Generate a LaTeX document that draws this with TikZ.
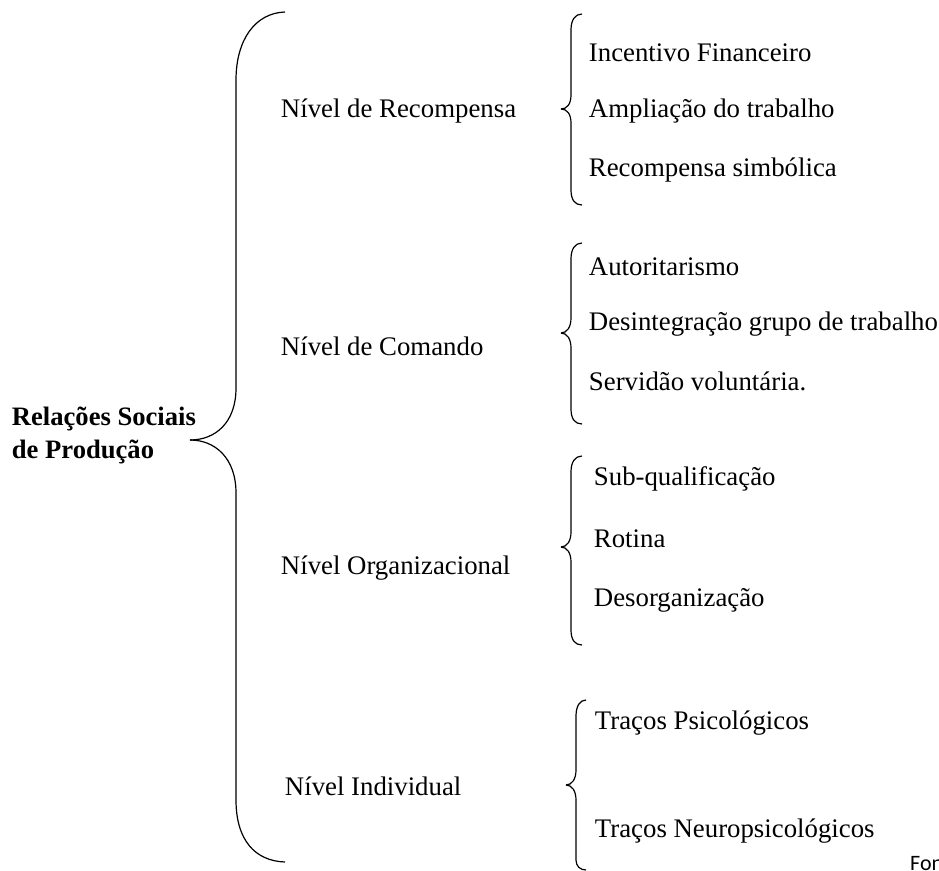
\documentclass[tikz,border=0pt]{standalone}
\usepackage{fontspec}
\setmainfont{Liberation Serif}
\newfontfamily\fontefont{Carlito}

\tikzset{
  txt/.style={anchor=west, inner sep=0.75pt, font=\fontsize{26.8}{32}\selectfont},
  brace/.style={line width=1.2pt}
}

\begin{document}
\begin{tikzpicture}[x=1pt,y=1pt,yscale=-1,xscale=1]
  \useasboundingbox (0,0) rectangle (939,870);

  %Curve Lines (big brace, upper half)
  \draw [brace] (285,12) .. controls (255,13) and (236,40) .. (236,80) -- (236,388) .. controls (236,423) and (215,440) .. (190,440) ;
  %Curve Lines (big brace, lower half)
  \draw [brace] (190,440) .. controls (215,440) and (236,458) .. (236,493) -- (236,800) .. controls (236,840) and (255,861) .. (285,862) ;

  %Curve Lines (brace of Recompensa)
  \draw [brace] (582,14) .. controls (575,14) and (571,20) .. (571,30) -- (571,95) .. controls (571,104) and (567,109) .. (561,109) ;
  \draw [brace] (561,109) .. controls (567,109) and (571,114) .. (571,123) -- (571,190) .. controls (571,200) and (575,205) .. (582,205) ;
  %Curve Lines (brace of Comando)
  \draw [brace] (582,243) .. controls (575,243) and (571,249) .. (571,259) -- (571,318) .. controls (571,327) and (567,333) .. (561,333) ;
  \draw [brace] (561,333) .. controls (567,333) and (571,339) .. (571,348) -- (571,409) .. controls (571,419) and (575,424) .. (582,424) ;
  %Curve Lines (brace of Organizacional)
  \draw [brace] (582,456) .. controls (575,456) and (571,462) .. (571,472) -- (571,532) .. controls (571,541) and (567,547) .. (561,547) ;
  \draw [brace] (561,547) .. controls (567,547) and (571,553) .. (571,562) -- (571,630) .. controls (571,640) and (575,645) .. (582,645) ;
  %Curve Lines (brace of Individual)
  \draw [brace] (586,700) .. controls (580,700) and (576,706) .. (576,716) -- (576,770) .. controls (576,779) and (572,785) .. (566,785) ;
  \draw [brace] (566,785) .. controls (572,785) and (576,791) .. (576,800) -- (576,860) .. controls (576,866) and (580,870) .. (586,870) ;

  % Text Node
  \node [txt, font=\fontsize{26.6}{33}\selectfont\bfseries, align=left] (rsp) at (11,435) {Relações Sociais\\de Produção};

  % Text Node
  \node [txt] (nrec) at (280,111) {Nível de Recompensa};
  \node [txt] (ncom) at (280,346) {Nível de Comando};
  \node [txt] (norg) at (280,568) {Nível Organizacional};
  \node [txt] (nind) at (284,786) {Nível Individual};

  % Text Node
  \node [txt] (inc) at (588,53) {Incentivo Financeiro};
  \node [txt] (amp) at (588,111) {Ampliação do trabalho};
  \node [txt] (rsi) at (588,170) {Recompensa simbólica};
  \node [txt] (aut) at (588,267) {Autoritarismo};
  \node [txt] (des) at (588,324) {Desintegração grupo de trabalho};
  \node [txt] (ser) at (588,381) {Servidão voluntária.};
  \node [txt] (sub) at (593,479) {Sub-qualificação};
  \node [txt] (rot) at (593,539) {Rotina};
  \node [txt] (dso) at (593,600) {Desorganização};
  \node [txt] (tps) at (594,723) {Traços Psicológicos};
  \node [txt] (tne) at (594,831) {Traços Neuropsicológicos};

  % Text Node
  \node [anchor=base west, inner sep=0pt, font=\fontefont\fontsize{22}{26}\selectfont] (fon) at (910,870) {Fon};
\end{tikzpicture}
\end{document}
